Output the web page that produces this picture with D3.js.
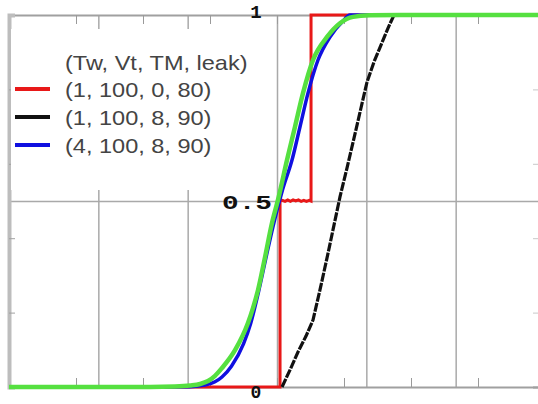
<!DOCTYPE html>
<html>
<head>
<meta charset="utf-8">
<script src="https://cdn.jsdelivr.net/npm/d3@7"></script>
<style>
  html, body { margin: 0; padding: 0; background: #fff; }
  svg { display: block; }
</style>
</head>
<body>
<svg id="chart" width="538" height="404"></svg>
<script>
// ---------------- data ----------------
const gridXValues = [1, 2, 3, 4, 5];
const minorXTicks = [0.75, 1.5, 2.25, 3, 3.75, 4.5, 5.25];
const minorYTicks = [0.2, 0.4, 0.6, 0.8];
const gridYValues = [0.5];
const yLabelValues = [1, 0.5, 0];
const yLabelTexts = ["1", "0.5", "0"];

const legendTitle = "(Tw, Vt, TM, leak)";
const legendLabels = ["(1, 100, 0, 80)", "(1, 100, 8, 90)", "(4, 100, 8, 90)"];
const legendColors = ["#e81818", "#111111", "#1010e0"];

const redSeries = [
  [0, 0], [3.034, 0], [3.034, 0.5], [3.06, 0.502], [3.09, 0.499], [3.12, 0.503],
  [3.15, 0.499], [3.18, 0.503], [3.21, 0.5], [3.24, 0.503], [3.27, 0.499],
  [3.3, 0.502], [3.33, 0.499], [3.36, 0.502], [3.381, 0.5],
  [3.381, 1], [6, 1]
];
const blackSeries = [
  [3.056, 0], [3.146, 0.046], [3.235, 0.094], [3.325, 0.137], [3.403, 0.18],
  [3.481, 0.261], [3.56, 0.347], [3.638, 0.435], [3.705, 0.511], [3.784, 0.589],
  [3.862, 0.669], [3.94, 0.75], [4.008, 0.82], [4.086, 0.874], [4.164, 0.919],
  [4.243, 0.965], [4.31, 1], [6, 1]
];
const blueSeries = [
  [0, 0], [1.578, 0], [2.026, 0.001], [2.194, 0.005], [2.306, 0.014], [2.384, 0.027],
  [2.49, 0.056], [2.625, 0.116], [2.705, 0.171], [2.795, 0.258], [2.886, 0.358],
  [2.97, 0.446], [3.062, 0.53], [3.168, 0.61], [3.257, 0.699], [3.347, 0.79],
  [3.459, 0.879], [3.593, 0.941], [3.739, 0.984], [3.817, 1], [6, 1]
];
const greenSeries = [
  [0, 0], [1.578, 0], [1.858, 0.0013], [2.026, 0.004], [2.138, 0.008], [2.228, 0.016],
  [2.306, 0.03], [2.384, 0.051], [2.53, 0.099], [2.675, 0.172], [2.731, 0.212],
  [2.787, 0.26], [2.866, 0.349], [2.944, 0.441], [3.011, 0.503], [3.112, 0.61],
  [3.201, 0.699], [3.291, 0.79], [3.403, 0.879], [3.56, 0.941], [3.705, 0.978],
  [3.851, 0.995], [4.041, 0.999], [4.377, 1], [6, 1]
];

// ---------------- layout ----------------
const svg = d3.select("#chart");
const pLeft = 9, pRight = 545, pTop = 15, pBottom = 387;
const x = d3.scaleLinear().domain([0, 6]).range([pLeft, pRight]);
const y = d3.scaleLinear().domain([0, 1]).range([pBottom, pTop]);

const gridColor = "#a9a9a9";

// vertical gridlines
svg.append("g")
  .attr("transform", `translate(0,${pBottom})`)
  .call(d3.axisBottom(x).tickValues(gridXValues).tickSize(-(pBottom - pTop)).tickFormat(""))
  .call(g => g.select(".domain").remove())
  .call(g => g.selectAll("line").attr("stroke", gridColor).attr("stroke-width", 1.5));

// horizontal gridline at 0.5
svg.append("g")
  .attr("transform", `translate(${pLeft},0)`)
  .call(d3.axisLeft(y).tickValues(gridYValues).tickSize(-(pRight - pLeft)).tickFormat(""))
  .call(g => g.select(".domain").remove())
  .call(g => g.selectAll("line").attr("stroke", gridColor).attr("stroke-width", 1.5));

// minor ticks bottom / top
svg.append("g")
  .attr("transform", `translate(0,${pBottom})`)
  .call(d3.axisBottom(x).tickValues(minorXTicks).tickSize(-9).tickFormat(""))
  .call(g => g.select(".domain").attr("stroke", "#a0a0a0").attr("stroke-width", 2))
  .call(g => g.selectAll(".tick line").attr("stroke", "#9a9a9a").attr("stroke-width", 1));
svg.append("g")
  .attr("transform", `translate(0,${pTop})`)
  .call(d3.axisTop(x).tickValues(minorXTicks).tickSize(-9).tickFormat(""))
  .call(g => g.select(".domain").attr("stroke", "#a0a0a0").attr("stroke-width", 2))
  .call(g => g.selectAll(".tick line").attr("stroke", "#9a9a9a").attr("stroke-width", 1));

// left / right minor y ticks
svg.append("g")
  .attr("transform", `translate(${pLeft},0)`)
  .call(d3.axisLeft(y).tickValues(minorYTicks).tickSize(-6).tickFormat(""))
  .call(g => g.select(".domain").attr("stroke", "#bdbdbd").attr("stroke-width", 4))
  .call(g => g.selectAll(".tick line").attr("stroke", "#a0a0a0").attr("stroke-width", 1));
svg.append("g")
  .attr("transform", `translate(${pRight},0)`)
  .call(d3.axisRight(y).tickValues(minorYTicks).tickSize(-12).tickFormat(""))
  .call(g => g.select(".domain").attr("stroke", "#a0a0a0").attr("stroke-width", 2))
  .call(g => g.selectAll(".tick line").attr("stroke", "#c8c8c8").attr("stroke-width", 1));

// legend background (covers gridlines)
svg.append("rect")
  .attr("x", pLeft + 2).attr("y", 29)
  .attr("width", 250).attr("height", 161)
  .attr("fill", "#fff");

// ---------------- series ----------------
const line = d3.line().x(d => x(d[0])).y(d => y(d[1]));
const smooth = d3.line().x(d => x(d[0])).y(d => y(d[1])).curve(d3.curveMonotoneX);

svg.append("path").datum(redSeries)
  .attr("d", line).attr("fill", "none")
  .attr("stroke", legendColors[0]).attr("stroke-width", 3);
svg.append("path").datum(blackSeries)
  .attr("d", line).attr("fill", "none")
  .attr("stroke", legendColors[1]).attr("stroke-width", 3.2)
  .attr("stroke-dasharray", "9,1.3");
svg.append("path").datum(blueSeries)
  .attr("d", smooth).attr("fill", "none")
  .attr("stroke", legendColors[2]).attr("stroke-width", 3.5);
svg.append("path").datum(greenSeries)
  .attr("d", smooth).attr("fill", "none")
  .attr("stroke", "#55e040").attr("stroke-width", 4.5);

// ---------------- y labels ----------------
const labelFont = "'Liberation Mono', 'DejaVu Sans Mono', monospace";
const labelAttrs = [
  { dx: 256, dy: 3, anchor: "middle", len: null, size: 19 },
  { dx: 222, dy: 8, anchor: "start", len: 50, size: 20 },
  { dx: 256, dy: 11, anchor: "middle", len: null, size: 18 }
];
yLabelValues.forEach((v, i) => {
  const a = labelAttrs[i];
  const t = svg.append("text")
    .attr("x", a.dx).attr("y", y(v) + a.dy)
    .attr("text-anchor", a.anchor)
    .attr("font-family", labelFont)
    .attr("font-weight", "bold")
    .attr("font-size", a.size)
    .attr("fill", "#111")
    .text(yLabelTexts[i]);
  if (a.len) t.attr("textLength", a.len).attr("lengthAdjust", "spacingAndGlyphs");
});

// ---------------- legend ----------------
const legendFont = "'Liberation Sans', Arial, sans-serif";
const stretch = function () {
  const w = this.getComputedTextLength();
  d3.select(this).attr("textLength", w * 1.12).attr("lengthAdjust", "spacingAndGlyphs");
};
svg.append("text")
  .attr("x", 65).attr("y", 70)
  .attr("font-family", legendFont).attr("font-size", 21)
  .attr("fill", "#444")
  .text(legendTitle)
  .each(stretch);

legendLabels.forEach((lab, i) => {
  const cy = 89 + i * 28;
  svg.append("line")
    .attr("x1", 15).attr("x2", 50)
    .attr("y1", cy).attr("y2", cy)
    .attr("stroke", legendColors[i]).attr("stroke-width", 4);
  svg.append("text")
    .attr("x", 65).attr("y", cy + 8)
    .attr("font-family", legendFont).attr("font-size", 21)
    .attr("fill", "#444")
    .text(lab)
    .each(stretch);
});
</script>
</body>
</html>
